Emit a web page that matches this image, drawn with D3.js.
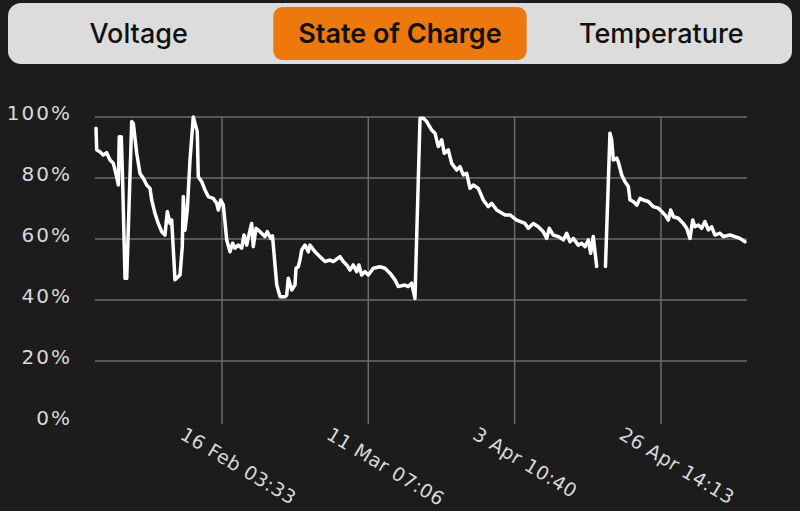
<!DOCTYPE html>
<html><head><meta charset="utf-8">
<script src="https://cdn.jsdelivr.net/npm/d3@7"></script>
<style>
html,body{margin:0;padding:0;background:#1c1c1c;}
svg{display:block;}
</style></head>
<body>
<svg id="chart" width="800" height="511"></svg>
<script>
// ---- data ----
const tabs = ["Voltage", "State of Charge", "Temperature"];
const selectedTab = "State of Charge";
const startTime = "2023-01-27T01:24:00Z";
const endDay = 103.15;
// days since startTime
const days = [0.16,0.27,0.79,1.31,1.85,2.37,2.90,3.43,3.69,3.84,4.16,4.38,4.75,5.02,5.81,6.06,6.60,7.12,7.64,8.18,8.70,8.97,9.49,10.01,10.55,11.07,11.44,11.87,12.13,12.66,13.45,13.81,13.97,14.24,14.60,15.03,15.55,15.82,16.18,16.34,16.88,17.40,17.92,18.71,19.25,19.51,19.89,20.30,20.84,21.36,21.78,22.15,22.67,23.21,23.57,24.00,24.41,24.79,25.04,25.47,26.10,26.89,27.26,27.80,28.08,28.75,29.27,30.06,30.33,30.58,31.12,31.64,31.80,32.16,32.43,32.70,33.22,33.74,34.01,34.80,35.60,36.39,37.18,37.70,38.76,39.28,39.82,40.34,40.86,41.40,41.76,42.19,42.71,43.24,44.03,45.09,45.88,46.67,47.46,47.98,49.04,49.56,50.10,50.62,51.42,51.94,52.48,53.27,53.79,54.31,54.85,55.26,55.89,56.43,57.22,57.74,58.27,58.81,59.33,59.85,60.64,61.43,62.22,62.76,63.55,64.86,65.65,66.71,68.03,68.55,69.34,70.13,70.92,71.46,71.87,72.50,73.30,74.09,74.62,75.15,75.67,76.46,77.00,77.52,78.04,78.42,78.83,79.37,80.10,80.76,81.47,81.74,82.00,82.54,82.79,83.33,83.85,84.37,84.64,85.16,85.70,86.22,86.74,87.54,88.33,89.12,89.66,90.18,90.70,91.08,91.49,92.28,93.07,93.61,94.13,94.56,94.92,95.45,95.98,96.50,97.03,97.56,98.08,98.88,99.40,100.46,101.25,102.04,102.83];
const soc = [96.3,89.2,88.6,87.5,88.3,85.9,84.8,80.4,77.7,93.5,93.5,78.4,47.1,47.1,98.5,97.9,88.1,81.5,79.9,77.7,76.6,72.8,68.4,65.1,62.4,61.3,69.0,65.1,66.2,46.6,48.2,57.5,73.9,62.9,69.5,85.9,100,97.9,95.2,80.4,78.8,76.1,73.9,73.3,71.7,69.5,72.8,71.1,59.7,55.8,58.6,57.0,58.0,57.0,61.3,58.0,61.9,65.1,57.5,63.5,62.4,60.8,62.4,60.2,61.0,45.0,41.1,41.1,41.6,47.1,43.3,44.9,50.4,50.9,53.1,56.4,58.0,55.8,58.0,55.8,54.2,52.6,53.1,52.6,54.2,52.6,51.5,49.8,51.5,49.3,51.5,48.2,49.3,48.2,50.4,50.9,50.4,48.8,46.6,44.4,44.9,44.4,45.5,40.5,99.6,99.6,98.5,95.7,94.7,90.3,92.5,88.1,89.2,84.8,82.6,83.7,81.0,81.5,76.6,77.7,76.6,72.8,70.6,71.7,69.5,67.9,67.9,66.2,65.1,63.5,65.1,64.0,62.4,60.2,63.5,61.3,60.8,59.7,61.9,59.1,60.2,58.0,58.6,57.5,59.7,55.3,60.8,51.0,null,51.0,94.7,92.5,85.9,86.5,85.3,81.0,78.8,77.2,72.8,72.3,71.1,73.3,72.8,72.3,70.6,70.1,69.0,67.9,66.2,69.5,67.3,66.8,65.1,63.5,60.2,66.2,64.0,64.6,63.5,65.7,63.0,64.0,61.3,61.9,60.8,61.3,60.8,60.2,59.1];
const xTickLabels = ["16 Feb 03:33","11 Mar 07:06","3 Apr 10:40","26 Apr 14:13"];
const xTickTimes = ["2023-02-16T03:33:00Z","2023-03-11T07:06:00Z","2023-04-03T10:40:00Z","2023-04-26T14:13:00Z"];
const yTicks = [0,20,40,60,80,100];

// ---- build ----
const DAY = 86400000;
const t0 = new Date(startTime).getTime();
const data = days.map((d,i)=>({t:new Date(t0+d*DAY), v:soc[i]}));

const svg = d3.select("#chart");
svg.append("rect").attr("width",800).attr("height",511).attr("fill","#1c1c1c");

// segmented control
const seg = {x:8,y:3,w:784,h:61};
svg.append("rect").attr("x",seg.x).attr("y",seg.y).attr("width",seg.w).attr("height",seg.h)
  .attr("rx",13).attr("fill","#dcdcdc");
const segX = d3.scaleBand().domain(tabs).range([seg.x, seg.x+seg.w]);
svg.append("rect").attr("x",segX(selectedTab)+4).attr("y",7).attr("width",segX.bandwidth()-8).attr("height",53)
  .attr("rx",9).attr("fill","#ec780e");
svg.selectAll("text.tab").data(tabs).join("text").attr("class","tab")
  .attr("x",d=>segX(d)+segX.bandwidth()/2).attr("y",43)
  .attr("text-anchor","middle")
  .attr("font-family","Inter, Roboto, sans-serif")
  .attr("font-size",27)
  .attr("font-weight",d=>d===selectedTab?600:500)
  .attr("fill","#111")
  .text(d=>d);

// scales
const x = d3.scaleUtc().domain([new Date(t0), new Date(t0+endDay*DAY)]).range([95,747]);
const y = d3.scaleLinear().domain([0,100]).range([422,117]);

// grid
const g = svg.append("g");
g.selectAll("line.h").data(yTicks.filter(d=>d>0)).join("line").attr("class","h")
  .attr("x1",95).attr("x2",747).attr("y1",d=>y(d)).attr("y2",d=>y(d))
  .attr("stroke","#6b6b6b").attr("stroke-width",1.5);
const tickDates = xTickTimes.map(s=>new Date(s));
g.selectAll("line.v").data(tickDates).join("line").attr("class","v")
  .attr("x1",d=>x(d)).attr("x2",d=>x(d)).attr("y1",117).attr("y2",424)
  .attr("stroke","#6b6b6b").attr("stroke-width",1.5);

// y labels
svg.selectAll("text.yl").data(yTicks).join("text").attr("class","yl")
  .attr("x",72).attr("y",d=>y(d)+3)
  .attr("text-anchor","end")
  .attr("font-family","DejaVu Sans, sans-serif")
  .attr("font-size",20).attr("letter-spacing",2)
  .attr("fill","#d9d9d9")
  .text(d=>d+"%");

// x labels
svg.selectAll("text.xl").data(tickDates).join("text").attr("class","xl")
  .attr("transform",d=>`translate(${x(d)-43},${438}) rotate(31)`)
  .attr("font-family","DejaVu Sans, sans-serif")
  .attr("font-size",19).attr("letter-spacing",0.5)
  .attr("fill","#d9d9d9")
  .text((d,i)=>xTickLabels[i]);

// line
const line = d3.line().defined(d=>d.v!==null).x(d=>x(d.t)).y(d=>y(d.v));
svg.append("path").datum(data).attr("d",line)
  .attr("fill","none").attr("stroke","#ffffff").attr("stroke-width",3.5)
  .attr("stroke-linejoin","round").attr("stroke-linecap","round");
</script>
</body></html>
